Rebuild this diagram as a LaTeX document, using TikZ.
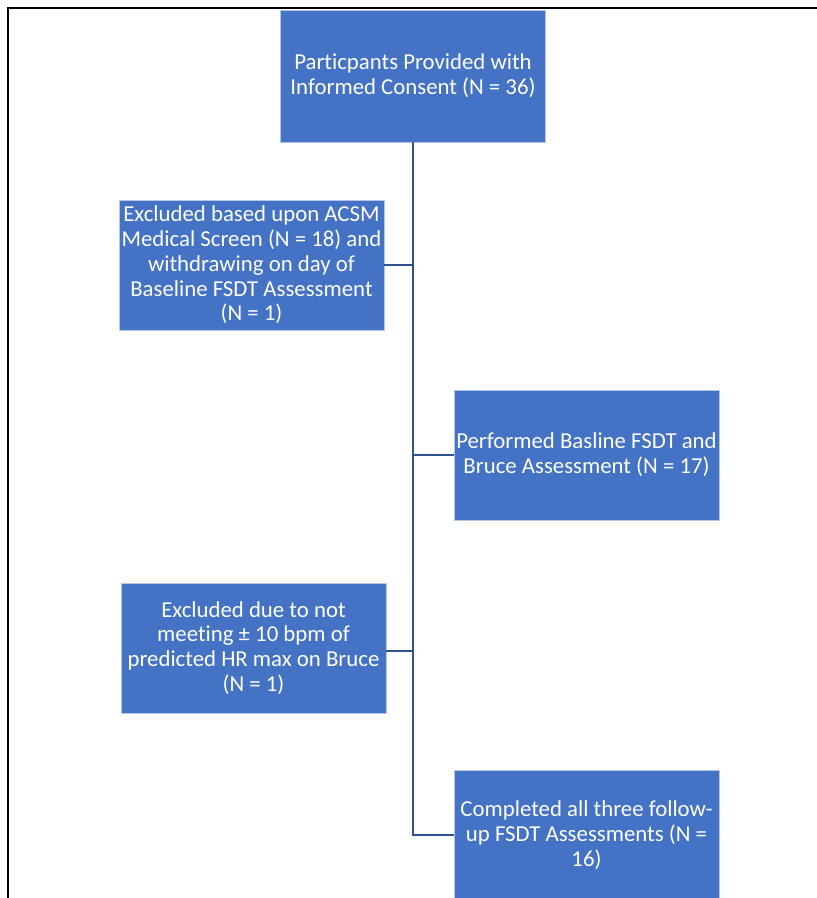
\documentclass[tikz,border=0pt]{standalone}
\usepackage{fontspec}
\setmainfont{Carlito}[Ligatures=NoCommon]
\usetikzlibrary{positioning}
\definecolor{boxblue}{HTML}{4472C4}
\definecolor{linkblue}{HTML}{2F528F}

\begin{document}
\begin{tikzpicture}[x=1pt,y=-1pt,every node/.style={font=\fontsize{22.8}{24.7}\selectfont},box/.style={draw=boxblue!40!white,line width=0.8pt,fill=boxblue,text=white,align=center,minimum width=265,minimum height=130,inner sep=1pt},link/.style={draw=linkblue,line width=1.8pt}]
\useasboundingbox (0,0) rectangle (817,898);
\draw[line width=2.5pt] (6.5,8) -- (817,8);\draw[line width=2.5pt] (8,6.8) -- (8,898);
\node[box,minimum height=132] (consent) at (413,76) {Particpants Provided with\\Informed Consent (N = 36)};
\node[box] (acsm) at (251.5,265) {Excluded based upon ACSM\\Medical Screen (N = 18) and\\withdrawing on day of\\Baseline FSDT Assessment\\(N = 1)};
\node[box] (baseline) at (586.5,455) {Performed Basline FSDT and\\Bruce Assessment (N = 17)};
\node[box] (hrmax) at (253.5,648) {Excluded due to not\\meeting ± 10 bpm of\\predicted HR max on Bruce\\(N = 1)};
\node[box] (followup) at (586.5,835) {Completed all three follow-\\up FSDT Assessments (N =\\16)};
\draw[link] (consent.south) -- (consent.south |- followup.west) -- (followup.west);
\draw[link] (acsm.east) -- (acsm.east -| consent.south);\draw[link] (baseline.west) -- (baseline.west -| consent.south);
\draw[link] ([yshift=-3]hrmax.east) -- ([yshift=-3]hrmax.east -| consent.south);
\end{tikzpicture}
\end{document}
